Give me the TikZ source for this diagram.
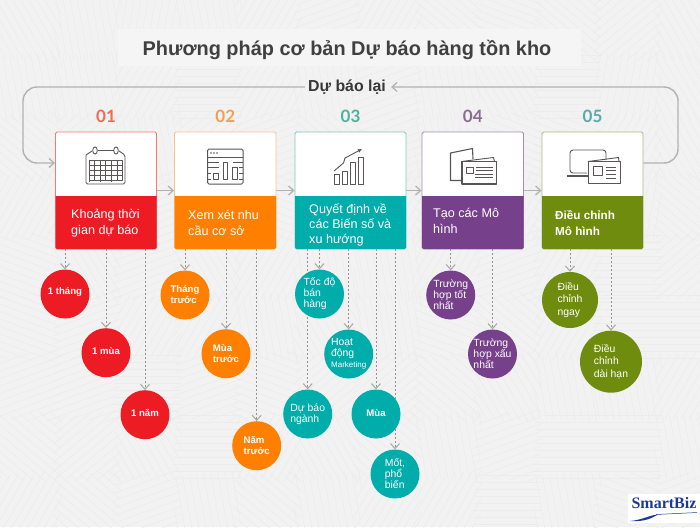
\documentclass[tikz,border=0pt]{standalone}
\usepackage{fontspec}
\setmainfont{Liberation Sans}
\newfontfamily\numfont{Lato}
\usetikzlibrary{arrows.meta}
\pgfdeclarelayer{back}
\pgfdeclarelayer{conn}
\pgfsetlayers{back,conn,main}
\definecolor{bgc}{HTML}{F2F2F2}
\definecolor{hatch}{HTML}{ECECEC}
\definecolor{titlebg}{HTML}{F5F5F5}
\definecolor{cred}{HTML}{ED1C24}
\definecolor{corg}{HTML}{FF7F00}
\definecolor{ctea}{HTML}{00ADAA}
\definecolor{cpur}{HTML}{77408A}
\definecolor{coli}{HTML}{708C0E}
\definecolor{lred}{HTML}{F47C6C}
\definecolor{lorg}{HTML}{F8C48C}
\definecolor{ltea}{HTML}{80C8BC}
\definecolor{lpur}{HTML}{A88CB0}
\definecolor{loli}{HTML}{A8BC88}
\definecolor{nred}{HTML}{EE6C50}
\definecolor{norg}{HTML}{F0A050}
\definecolor{ntea}{HTML}{4FB0A0}
\definecolor{npur}{HTML}{8D6A94}
\definecolor{noli}{HTML}{5AA9AB}
\definecolor{icong}{HTML}{5A5555}
\definecolor{logob}{HTML}{1B3A9A}
\tikzset{
 circ/.style={circle,inner sep=0pt,draw=none},
 ctext/.style={text=white,font=\fontsize{10.4}{11}\selectfont,align=left,inner sep=0pt},
 boldc/.style={ctext/.append style={font=\bfseries\fontsize{9.6}{11}\selectfont}},
 widec/.style={ctext/.append style={font=\fontsize{10.4}{12.5}\selectfont}},
 numtext/.style={font=\numfont\bfseries\fontsize{17}{17}\selectfont,inner sep=0pt},
 cardbox/.style={rectangle,fill=white,rounded corners=1.5pt,line width=0.9pt,inner sep=0pt},
 bandtext/.style={text=white,font=\fontsize{12.6}{15.3}\selectfont,align=left,inner sep=0pt,anchor=west},
 drop/.style={draw=gray!85,dash pattern=on 2pt off 2pt,line width=0.7pt,-{Straight Barb[length=5pt,width=9pt,line width=1pt,color=gray!70]}},
 loopline/.style={draw=gray!60,line width=1.4pt},
 flow/.style={loopline,-{Straight Barb[length=5pt,width=9pt,line width=1.3pt]}},
 icon/.style={draw=icong,line width=0.9pt,line join=round},
}
% [diameter] name, x, y, colour, text
\newcommand{\cnode}[6][49]{\node[circ,minimum size=#1pt,fill=#5] (#2) at (#3,#4) {};\node[ctext] (#2t) at (#2) {#6};}
% name, x1, x2, light colour, band colour, number, number colour
\newcommand{\cardnode}[7]{%
 \node[cardbox,draw=#4,minimum width={#3pt-#2pt},minimum height=117pt] (#1) at ({(#2+#3)/2},190.5) {};
 \fill[#5] (#2,196) -- (#3,196) [rounded corners=1.5pt] -- (#3,249) -- (#2,249) [sharp corners] -- cycle;
 \node[numtext,text=#7] (#1n) at ({(#2+#3)/2},116) {#6};}
% connector from card #1 down to circle #2
\newcommand{\dropline}[2]{\draw[drop] (#1.south -| #2.north) -- (#2.north);}
\begin{document}
\begin{tikzpicture}[x=1pt,y=-1pt]
\useasboundingbox (0,0) rectangle (700,527);
\begin{pgfonlayer}{back}
\fill[bgc] (0,0) rectangle (700,527);
\pgfmathsetseed{4711}
\foreach \i in {0,...,11}{\foreach \j in {0,...,8}{
 \pgfmathsetmacro{\ang}{random(0,17)*20}
 \begin{scope}
 \clip (\i*60-4,\j*60-4) -- (\i*60+62,\j*60-10) -- (\i*60+60,\j*60+62) -- (\i*60-8,\j*60+58) -- cycle;
 \begin{scope}[shift={(\i*60+30,\j*60+30)},rotate=\ang]
 \foreach \k in {-6,...,6}{\draw[hatch,line width=0.6pt] (-50,\k*7) -- (50,\k*7);}
 \end{scope}
 \end{scope}
}}
\fill[titlebg] (118,29) rectangle (581,65.7);
\end{pgfonlayer}

\node[font=\bfseries\fontsize{19.9}{24}\selectfont,text=black!75,inner sep=0pt] (title) at (347,50) {Phương pháp cơ bản Dự báo hàng tồn kho};

\cardnode{A}{55.5}{156.5}{lred}{cred}{01}{nred}
\cardnode{B}{174.5}{276}{lorg}{corg}{02}{norg}
\cardnode{C}{295}{406}{ltea}{ctea}{03}{ntea}
\cardnode{D}{422}{523.5}{lpur}{cpur}{04}{npur}
\cardnode{E}{542}{643}{loli}{coli}{05}{noli}

\node[bandtext] (At) at (71,223) {Khoảng thời\\gian dự báo};
\node[bandtext] (Bt) at (188,223) {Xem xét nhu\\cầu cơ sở};
\node[bandtext] (Ct) at (309,225) {Quyết định về\\các Biến số và\\xu hướng};
\node[bandtext] (Dt) at (433,221) {Tạo các Mô\\hình};
\node[bandtext,font=\bfseries\fontsize{11.7}{15.3}\selectfont] (Et) at (555,223) {Điều chỉnh\\Mô hình};

\node[inner sep=3pt,font=\bfseries\fontsize{15.9}{18}\selectfont,text=black!78] (redo) at (347,87) {Dự báo lại};

\begin{scope}[boldc,ctext/.append style={yshift=2pt}]
\cnode{a1}{65}{294}{cred}{1 tháng}
\cnode{a2}{106}{352.7}{cred}{1 mùa}
\cnode{a3}{145}{414.7}{cred}{1 năm}
\end{scope}
\begin{scope}[boldc]
\cnode{b1}{185}{295}{corg}{Tháng\\trước}
\cnode{b2}{226}{353.7}{corg}{Mùa\\trước}
\cnode{b3}{256.7}{445.7}{corg}{Năm\\trước}
\cnode{c4}{376}{414}{ctea}{\raisebox{2pt}{Mùa}}
\end{scope}
\cnode{c1}{319.5}{294}{ctea}{Tốc độ\\bán\\hàng}
\cnode{c2}{348.7}{354}{ctea}{Hoạt\\động\\{\fontsize{8}{10}\selectfont Marketing}}
\cnode{c3}{307.7}{414}{ctea}{Dự báo\\ngành}
\cnode{c5}{395}{474}{ctea}{Mốt,\\phổ\\biến}
\cnode{d1}{450.7}{295}{cpur}{Trường\\hợp tốt\\nhất}
\cnode{d2}{492.5}{354}{cpur}{Trường\\hợp xấu\\nhất}
\begin{scope}[widec]
\cnode[56]{e1}{570}{300}{coli}{Điều\\chỉnh\\ngay}
\cnode[62]{e2}{611}{361.7}{coli}{Điều\\chỉnh\\dài hạn}
\end{scope}

\begin{pgfonlayer}{conn}
\dropline{A}{a1}\dropline{A}{a2}\dropline{A}{a3}
\dropline{B}{b1}\dropline{B}{b2}\dropline{B}{b3}
\dropline{C}{c1}\dropline{C}{c2}\dropline{C}{c3}\dropline{C}{c4}\dropline{C}{c5}
\dropline{D}{d1}\dropline{D}{d2}
\dropline{E}{e1}\dropline{E}{e2}
\draw[flow] (A.east) -- (B.west);
\draw[flow] (B.east) -- (C.west);
\draw[flow] (C.east) -- (D.west);
\draw[flow] (D.east) -- (E.west);
\coordinate (lt) at (23,87);
\coordinate (lb) at (23,163);
\coordinate (rt) at (678,87);
\coordinate (rb) at (678,163);
\draw[flow,rounded corners=14pt] (redo.west) -- (lt) -- (lb) -- (A.west |- lb);
\draw[flow,rounded corners=14pt] (E.east |- rb) -- (rb) -- (rt) -- ([xshift=2pt]redo.east);
\end{pgfonlayer}

% icon 1: calendar
\draw[icon,rounded corners=1.5pt] (86,155) -- (86,184) -- (125,184) -- (125,155) -- (119,151);
\draw[icon] (98,150.5) -- (113.5,150.5);
\draw[icon] (92,151) -- (86,155);
\draw[icon] (95,150.5) ellipse (2.3 and 3.6);
\draw[icon] (116,150.5) ellipse (2.3 and 3.6);
\draw[icon,line width=1pt] (89,160) rectangle (122.5,180.5);
\foreach \x in {94.6,100.2,105.8,111.4,117}{\draw[icon] (\x,160) -- (\x,180.5);}
\foreach \y in {165,170.2,175.4}{\draw[icon] (89,\y) -- (122.5,\y);}
\draw[icon] (89,180.5) -- (89,182) (100.2,180.5) -- (100.2,182) (111.4,180.5) -- (111.4,182);
% icon 2: dashboard
\draw[icon,rounded corners=1.5pt,line width=1pt] (207.5,149) rectangle (243,184);
\draw[icon] (207.5,157) -- (243,157);
\foreach \x in {211,214,217}{\fill[icong] (\x,153) circle (0.9);}
\draw[icon] (213.5,173) rectangle (218.5,179.5);
\draw[icon] (223,162) rectangle (227.5,179.5);
\draw[icon] (232.5,167) rectangle (237,179.5);
\draw[icon] (207.5,162) -- (218.5,162) (207.5,167) -- (218.5,167) (207.5,173) -- (211,173) (207.5,179.5) -- (211,179.5);
\draw[icon] (232.5,162) -- (243,162) (239,167) -- (243,167) (239,173) -- (243,173) (239,179.5) -- (243,179.5);
% icon 3: growth chart
\draw[icon] (334.5,174.5) rectangle (339,184);
\draw[icon] (342.5,171) rectangle (347,184);
\draw[icon] (350,162.5) rectangle (355,184);
\draw[icon] (358,157.5) rectangle (363,184);
\draw[icon,-{Latex[length=4pt,width=4pt]}] (334,171) -- (343.5,163) -- (345,158) -- (362,149);
% icon 4: booklets
\draw[icon,line width=1.1pt] (462,180.5) -- (450.5,180.5) -- (450.5,153) -- (472.5,148.5) -- (473,159);
\draw[icon] (461.5,161.5) -- (493.5,157.5) -- (494.5,161.5);
\draw[icon,line width=1.1pt] (462,161.5) rectangle (496.5,184);
\draw[icon] (466,167.5) rectangle (473.5,173.5);
\foreach \y in {167.5,170.7,174}{\draw[icon] (476,\y) -- (492.5,\y);}
\draw[icon] (475,177.5) -- (492.5,177.5) (475,174) -- (492.5,174);
% icon 5: screen and booklet
\draw[icon,rounded corners=3pt] (587,173) -- (570,173) -- (570,150) -- (606,150) -- (606,160);
\draw[icon,line width=1.2pt] (567,176) -- (588,176);
\draw[icon] (588,161.5) -- (618.5,157.5) -- (619,161.5);
\draw[icon] (588,161.5) rectangle (620.5,183);
\draw[icon] (593,166.5) rectangle (602,175);
\foreach \y in {167,170.5,174,178}{\draw[icon] (606,\y) -- (616,\y);}

% logo
\node[fill=white,minimum width=72pt,minimum height=29pt,inner sep=0pt] (logo) at (664,508.3) {};
\node[text=logob,font=\fontspec{Liberation Serif}\bfseries\fontsize{16}{17}\selectfont,inner sep=0pt] (logot) at (664,503) {SmartBiz};
\fill[logob] (630,521) .. controls (642,520) and (650,515) .. (658,514.5) .. controls (652,518) and (645,522) .. (630,521);
\draw[logob,line width=0.5pt] (656,514.5) -- (697,512.5);
\end{tikzpicture}
\end{document}
